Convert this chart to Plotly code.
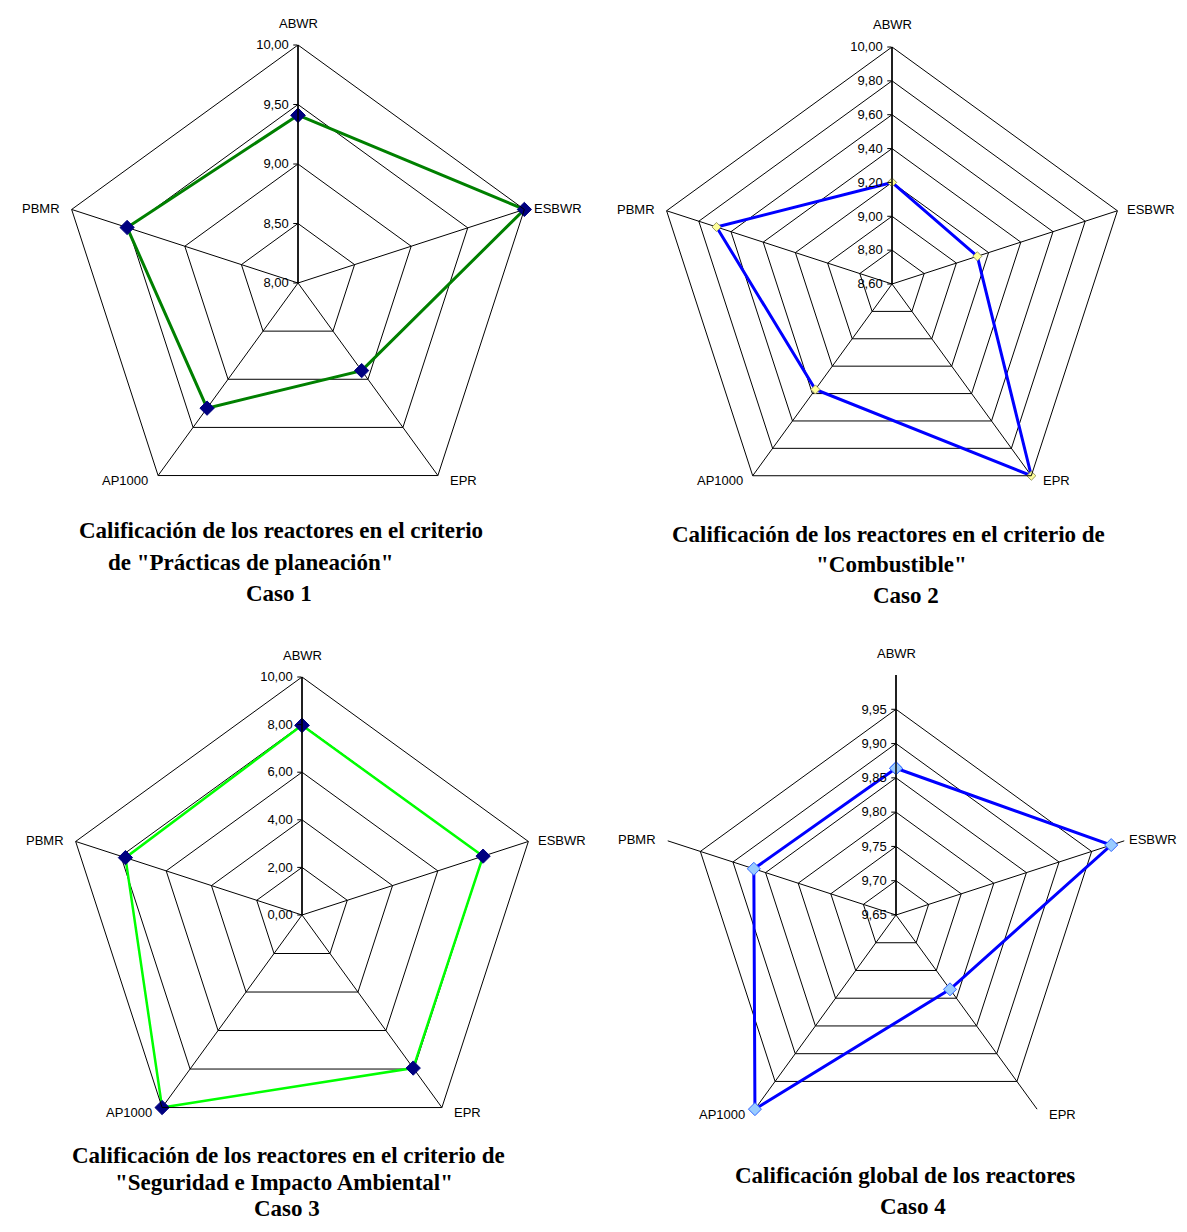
import math
import plotly.graph_objects as go

categories = ["ABWR", "ESBWR", "EPR", "AP1000", "PBMR"]

caso1 = [9.41, 10.00, 8.91, 9.30, 9.51]
caso2 = [9.20, 9.13, 10.00, 9.37, 9.69]
caso3 = [7.97, 8.00, 7.95, 10.00, 7.80]
caso4 = [9.864, 9.98, 9.784, 10.00, 9.868]

ticks1 = [8.0, 8.5, 9.0, 9.5, 10.0]
labels1 = ["8,00", "8,50", "9,00", "9,50", "10,00"]
ticks2 = [8.6, 8.8, 9.0, 9.2, 9.4, 9.6, 9.8, 10.0]
labels2 = ["8,60", "8,80", "9,00", "9,20", "9,40", "9,60", "9,80", "10,00"]
ticks3 = [0, 2, 4, 6, 8, 10]
labels3 = ["0,00", "2,00", "4,00", "6,00", "8,00", "10,00"]
ticks4 = [9.65, 9.70, 9.75, 9.80, 9.85, 9.90, 9.95]
labels4 = ["9,65", "9,70", "9,75", "9,80", "9,85", "9,90", "9,95"]

titles1 = ["Calificación de los reactores en el criterio", "de \"Prácticas de planeación\"", "Caso 1"]
titles2 = ["Calificación de los reactores en el criterio de", "\"Combustible\"", "Caso 2"]
titles3 = ["Calificación de los reactores en el criterio de", "\"Seguridad e Impacto Ambiental\"", "Caso 3"]
titles4 = ["Calificación global de los reactores", "Caso 4"]

# page body has an 8px margin; figure is sized to fit inside the window
OFF = 8
W, H = 1187 - 2 * OFF, 1232 - 2 * OFF


def px(x):
    return (x - OFF) / W


def py(y):
    return 1 - (y - OFF) / H


def dom(cx, cy, R):
    return dict(x=[px(cx - R), px(cx + R)], y=[py(cy + R), py(cy - R)])


fig = go.Figure()

charts = [
    dict(name="polar", vals=caso1, rng=[8, 10], tv=ticks1, tt=labels1, c=(298, 283), R=238,
         line="#008000", lw=3, mfill="#000080", mline="#000080", ms=11, outer=True, egap=8),
    dict(name="polar2", vals=caso2, rng=[8.6, 10], tv=ticks2, tt=labels2, c=(892, 284), R=237,
         line="#0000ff", lw=3, mfill="#ffff99", mline="#999966", ms=7, outer=True, egap=8),
    dict(name="polar3", vals=caso3, rng=[0, 10], tv=ticks3, tt=labels3, c=(302, 915), R=238,
         line="#00ff00", lw=2.5, mfill="#000080", mline="#000080", ms=11, outer=True, egap=8),
    dict(name="polar4", vals=caso4, rng=[9.65, 10], tv=ticks4, tt=labels4, c=(896, 915), R=240,
         line="#0000ff", lw=3, mfill="#99ccff", mline="#3366ff", ms=10, outer=False, egap=3),
]

label_font = dict(family="Liberation Sans, Arial", size=13, color="black")
annotations = []
layout_polars = {}
for ch in charts:
    sub = ch["name"]
    cx, cy = ch["c"]
    R = ch["R"]
    fig.add_trace(go.Scatterpolar(
        r=ch["vals"] + ch["vals"][:1],
        theta=categories + categories[:1],
        mode="lines+markers",
        line=dict(color=ch["line"], width=ch["lw"]),
        marker=dict(symbol="diamond", size=ch["ms"], color=ch["mfill"],
                    line=dict(color=ch["mline"], width=1)),
        subplot=sub,
        showlegend=False,
        cliponaxis=False,
    ))
    layout_polars[sub] = dict(
        domain=dom(cx, cy, R),
        bgcolor="white",
        gridshape="linear",
        angularaxis=dict(
            direction="clockwise", rotation=90,
            showline=ch["outer"], linecolor="black", linewidth=1,
            gridcolor="black", gridwidth=1, ticks="", showticklabels=False,
        ),
        radialaxis=dict(
            range=ch["rng"], tickvals=ch["tv"], ticktext=ch["tt"],
            showline=True, linecolor="black", linewidth=1.5,
            gridcolor="black", gridwidth=1,
            angle=90, side="counterclockwise", tickangle=90,
            ticks="outside", ticklen=4, tickcolor="black",
            tickfont=dict(family="Liberation Sans, Arial", size=13, color="black"),
        ),
    )
    # category labels placed around the outer vertices
    n = len(categories)
    for i, cat in enumerate(categories):
        ang = math.radians(90 - 360 * i / n)
        vx = cx + R * math.cos(ang)
        vy = cy - R * math.sin(ang)
        if i == 0:
            x, y, xa = vx, vy - 22, "center"
        elif i == 1:
            x, y, xa = vx + ch["egap"], vy - 1, "left"
        elif i == 2:
            x, y, xa = vx + 10, vy + 5, "left"
        elif i == 3:
            x, y, xa = vx - 8, vy + 5, "right"
        else:
            x, y, xa = vx - 10, vy - 1, "right"
        annotations.append(dict(
            text=cat, x=px(x), y=py(y), xref="paper", yref="paper",
            showarrow=False, xanchor=xa, yanchor="middle", font=label_font,
        ))

fig.update_layout(**layout_polars)

title_specs = [
    (titles1, [(281, 530), (251, 562), (279, 593)]),
    (titles2, [(888, 534), (891, 564), (906, 595)]),
    (titles3, [(288, 1155), (284, 1182), (287, 1208)]),
    (titles4, [(905, 1175), (913, 1206)]),
]
for lines, pos in title_specs:
    for text, (x, y) in zip(lines, pos):
        annotations.append(dict(
            text="<b>" + text + "</b>", x=px(x), y=py(y), xref="paper", yref="paper",
            showarrow=False, xanchor="center", yanchor="middle",
            font=dict(family="Liberation Serif, Times New Roman", size=23, color="black"),
        ))

fig.update_layout(
    width=W, height=H,
    margin=dict(l=0, r=0, t=0, b=0),
    paper_bgcolor="white",
    plot_bgcolor="white",
    annotations=annotations,
    showlegend=False,
)

fig.write_html("out.html")
